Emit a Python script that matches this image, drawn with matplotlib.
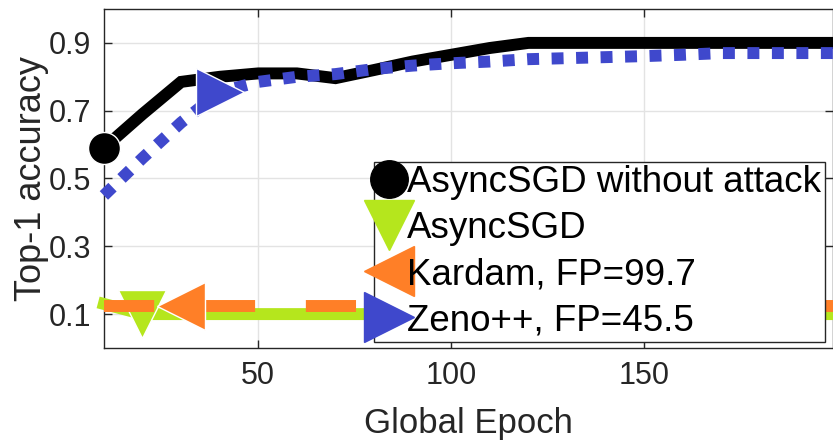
import matplotlib
matplotlib.use("Agg")
import matplotlib.pyplot as plt
from matplotlib.lines import Line2D

# accuracy per global epoch
epochs = [10, 20, 30, 40, 50, 60, 70, 80, 90, 100,
          110, 120, 130, 140, 150, 160, 170, 180, 190, 200]
no_attack = [0.59, 0.69, 0.785, 0.80, 0.81, 0.81, 0.796, 0.82, 0.845, 0.865,
             0.885, 0.90, 0.90, 0.90, 0.90, 0.90, 0.90, 0.90, 0.90, 0.90]
asyncsgd = [0.13, 0.10, 0.10, 0.10, 0.10, 0.10, 0.10, 0.10, 0.10, 0.10,
            0.10, 0.10, 0.10, 0.10, 0.10, 0.10, 0.10, 0.10, 0.10, 0.10]
kardam = [0.125, 0.125, 0.125, 0.125, 0.125, 0.125, 0.125, 0.125, 0.125, 0.125,
          0.125, 0.125, 0.125, 0.125, 0.125, 0.125, 0.125, 0.125, 0.125, 0.125]
zeno = [0.45, 0.56, 0.665, 0.755, 0.785, 0.80, 0.808, 0.823, 0.833, 0.84,
        0.845, 0.852, 0.855, 0.858, 0.861, 0.865, 0.87, 0.87, 0.87, 0.87]

labels = ["AsyncSGD without attack", "AsyncSGD", "Kardam, FP=99.7", "Zeno++, FP=45.5"]
yticks = [0.1, 0.3, 0.5, 0.7, 0.9]
xticks = [50, 100, 150]

plt.rcParams['font.family'] = ['Liberation Sans', 'DejaVu Sans']

fig = plt.figure(figsize=(8.33, 4.43), dpi=100)
ax = fig.add_axes([103.9 / 833, 95 / 443, 729.1 / 833, 339 / 443])

black = '#000000'
green = '#B5E61D'
orange = '#FF7F27'
blue = '#3F48CC'
lw = 8.6

ax.plot(epochs, no_attack, color=black, lw=lw, marker='o', markersize=23,
        markevery=[0], markeredgecolor='white', markeredgewidth=1, zorder=3,
        solid_joinstyle='miter', clip_on=False)
ax.plot(epochs, asyncsgd, color=green, lw=lw, marker='v', markersize=34,
        markevery=[1], markeredgecolor='white', markeredgewidth=1, zorder=4,
        clip_on=False)
ax.plot(epochs, kardam, color=orange, lw=lw, linestyle=(0, (4.2, 4.25)),
        dash_capstyle='butt', marker='<', markersize=34, markevery=[2],
        markeredgecolor='white', markeredgewidth=1, zorder=5, clip_on=False)
ax.plot(epochs, zeno, color=blue, lw=lw, linestyle=(0, (1.0, 1.05)),
        dash_capstyle='butt', marker='>', markersize=34, markevery=[3],
        markeredgecolor='white', markeredgewidth=1, zorder=6, clip_on=False)

ax.set_xlim(10, 198.9)
ax.set_ylim(0, 1)
ax.set_xticks(xticks)
ax.set_yticks(yticks)
ax.set_yticklabels([f"{v:.1f}" for v in yticks])
ax.grid(True, color='#e3e3e3', lw=1)
ax.set_axisbelow(True)
ax.tick_params(direction='in', length=6, width=1, top=True, right=True,
               labelsize=22, colors='#262626', pad=9)
for s in ax.spines.values():
    s.set_color('#262626')
    s.set_linewidth(1)
ax.set_xlabel("Global Epoch", fontsize=25, color='#262626', labelpad=12)
ax.set_ylabel("Top-1 accuracy", fontsize=26, color='#262626', labelpad=0)

handles = [
    Line2D([], [], color=black, marker='o', markersize=27, linestyle='none'),
    Line2D([], [], color=green, marker='v', markersize=36, linestyle='none'),
    Line2D([], [], color=orange, marker='<', markersize=36, linestyle='none'),
    Line2D([], [], color=blue, marker='>', markersize=36, linestyle='none'),
]
leg = ax.legend(handles, labels, loc='lower left',
                bbox_to_anchor=(374 / 833, (443 - 342) / 443),
                bbox_transform=fig.transFigure, fontsize=26.5,
                frameon=True, fancybox=False, framealpha=1, edgecolor='#262626',
                borderpad=0.1, borderaxespad=0, handlelength=0.6,
                handletextpad=0.2, labelspacing=0.3)
leg.get_frame().set_linewidth(1)
leg.set_zorder(10)

fig.savefig("out.png", dpi=100)
